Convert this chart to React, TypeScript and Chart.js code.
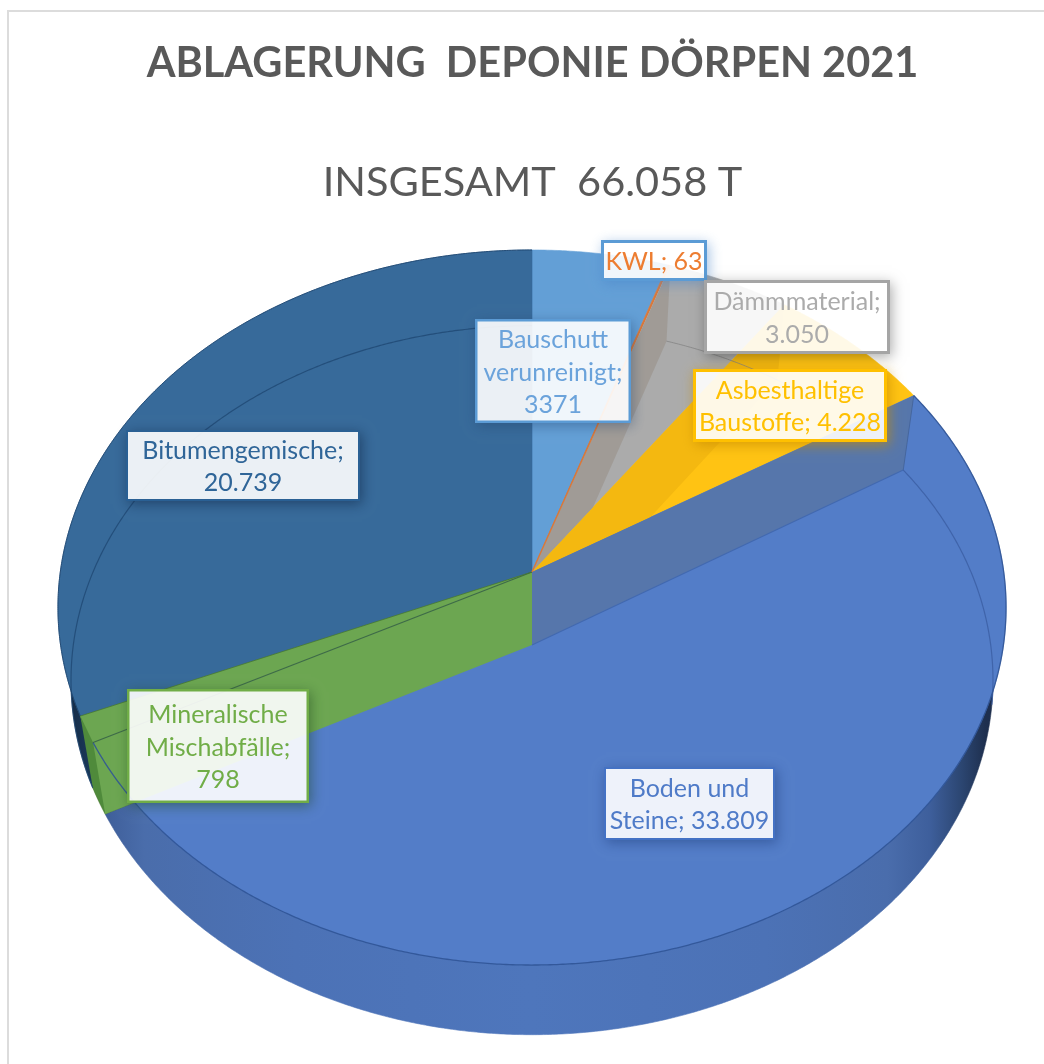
import React, { useEffect, useRef } from "react";
import { Chart, registerables } from "chart.js";

Chart.register(...registerables);

const categories = ["Bauschutt verunreinigt", "KWL", "Dämmmaterial", "Asbesthaltige Baustoffe", "Boden und Steine", "Mineralische Mischabfälle", "Bitumengemische"];
const tonnes = [3371, 63, 3050, 4228, 33809, 798, 20739];
const valueLabels = ["3371", "63", "3.050", "4.228", "33.809", "798", "20.739"];
const chartTitle = "ABLAGERUNG  DEPONIE DÖRPEN 2021";
const chartSubtitle = "INSGESAMT  66.058 T";

const faceColors = ["#639FD6", "#D9783A", "#ABABAB", "#FFC313", "#537DC8", "#6CA651", "#376A9A"];
const textColors = ["#6BA3DB", "#ED7D31", "#ABABAB", "#FFC000", "#4F7BC8", "#70AD47", "#2F6598"];
const borderColors = ["#5B9BD5", "#5B9BD5", "#A5A5A5", "#FFC000", "#4472C4", "#70AD47", "#2A6094"];
const shadowColors = ["rgba(30,60,100,0.4)", "rgba(70,130,200,0.5)", "rgba(0,0,0,0.32)", "rgba(200,140,0,0.7)", "rgba(20,50,110,0.45)", "rgba(30,70,30,0.5)", "rgba(10,30,60,0.5)"];
const borderWidths = [2.5, 3, 3, 3, 2, 2.5, 2];
const rimColors = ["#4A7FB0", "#B05A25", "#808080", "#C09000", "", "#4F7F38", ""];

// label boxes: [left, top, right, bottom, text lines]
const labelBoxes: [number, number, number, number, string[]][] = [
  [475, 319, 631, 423, ["Bauschutt", "verunreinigt;"]],
  [601, 240, 707, 281, []],
  [704, 280, 890, 354, ["Dämmmaterial;"]],
  [693, 369, 887, 442, ["Asbesthaltige", "Baustoffe;"]],
  [604, 767, 775, 840, ["Boden und", "Steine;"]],
  [127, 689, 309, 803, ["Mineralische", "Mischabfälle;"]],
  [126, 430, 360, 501, ["Bitumengemische;"]],
];

const PERSP = 0.0993;
const TOP = { cx: 532, cy: 572, a: 471.7, b: 354 };
const BOT = { cx: 532, cy: 645, a: 458.7, b: 351 };
const LABEL_FONT = "25px Lato";
const LINE_H = 32.3;

type Face = typeof TOP;
const proj = (f: Face, ang: number): [number, number] => {
  const u = Math.cos(ang), v = Math.sin(ang), d = 1 - PERSP * v;
  return [f.cx + (f.a * u) / d, f.cy + (f.b * v) / d];
};

function arcPoints(ctx: CanvasRenderingContext2D, f: Face, a0: number, a1: number, move = false) {
  const n = Math.max(2, Math.ceil(Math.abs(a1 - a0) / 0.006));
  for (let i = 0; i <= n; i++) {
    const p = proj(f, a0 + ((a1 - a0) * i) / n);
    if (i === 0 && move) ctx.moveTo(p[0], p[1]);
    else ctx.lineTo(p[0], p[1]);
  }
}

function sector(ctx: CanvasRenderingContext2D, f: Face, a0: number, a1: number) {
  ctx.beginPath();
  ctx.moveTo(f.cx, f.cy);
  arcPoints(ctx, f, a0, a1);
  ctx.closePath();
}

function fillSector(ctx: CanvasRenderingContext2D, f: Face, a0: number, a1: number, c: any) {
  sector(ctx, f, a0, a1);
  ctx.fillStyle = c;
  ctx.strokeStyle = c;
  ctx.lineWidth = 0.6;
  ctx.fill();
  ctx.stroke();
}

function poly(ctx: CanvasRenderingContext2D, pts: [number, number][], c: string) {
  ctx.beginPath();
  pts.forEach((p, i) => (i ? ctx.lineTo(p[0], p[1]) : ctx.moveTo(p[0], p[1])));
  ctx.closePath();
  ctx.fillStyle = c;
  ctx.fill();
}

function strokeArc(ctx: CanvasRenderingContext2D, f: Face, a0: number, a1: number, c: string, w: number) {
  ctx.beginPath();
  arcPoints(ctx, f, a0, a1, true);
  ctx.strokeStyle = c;
  ctx.lineWidth = w;
  ctx.stroke();
}

function line(ctx: CanvasRenderingContext2D, p: [number, number], q: [number, number], c: string, w: number) {
  ctx.beginPath();
  ctx.moveTo(p[0], p[1]);
  ctx.lineTo(q[0], q[1]);
  ctx.strokeStyle = c;
  ctx.lineWidth = w;
  ctx.stroke();
}

const pie3d = {
  id: "pie3d",
  beforeDatasetsDraw(chart: any) {
    const ctx: CanvasRenderingContext2D = chart.ctx;
    const arcs = chart.getDatasetMeta(0).data;
    const S = arcs.map((a: any) => a.startAngle);
    const E = arcs.map((a: any) => a.endAngle);
    const apexT: [number, number] = [TOP.cx, TOP.cy];
    const apexB: [number, number] = [BOT.cx, BOT.cy];

    ctx.save();
    // frame
    ctx.fillStyle = "#DCDCDC";
    ctx.fillRect(7, 10, 1037, 2);
    ctx.fillRect(7, 10, 2, 1054);

    // rim: lower face
    const bodenRim = ctx.createLinearGradient(60, 0, 1000, 0);
    [[0.02, "#27406E"], [0.05, "#3F5F9A"], [0.09, "#4A6DAB"], [0.25, "#4C72B6"], [0.5, "#4E76BC"], [0.75, "#4C72B6"], [0.88, "#4A6DAC"], [0.925, "#3E5F9C"], [0.96, "#2B4570"], [0.985, "#1E2F4E"]].forEach(([o, c]) => bodenRim.addColorStop(o as number, c as string));
    const bitRim = ctx.createLinearGradient(60, 0, 130, 0);
    bitRim.addColorStop(0, "#12263F");
    bitRim.addColorStop(1, "#25507A");
    arcs.forEach((_: any, i: number) => {
      const c = i === 4 ? bodenRim : i === 6 ? bitRim : rimColors[i];
      fillSector(ctx, BOT, S[i], E[i], c);
    });

    // top face
    arcs.forEach((_: any, i: number) => fillSector(ctx, TOP, S[i], E[i], faceColors[i]));

    // translucent inner walls, clipped to their own slice
    ctx.save();
    sector(ctx, TOP, S[2], E[2]);
    ctx.clip();
    poly(ctx, [apexT, proj(TOP, S[2]), proj(BOT, S[2]), apexB], "#A09B96");
    ctx.restore();

    ctx.save();
    sector(ctx, TOP, S[3], E[3]);
    ctx.clip();
    poly(ctx, [apexT, proj(TOP, S[3]), proj(BOT, S[3]), apexB], "#F4B810");
    ctx.restore();

    // walls of the big slice
    poly(ctx, [apexT, proj(TOP, S[4]), proj(BOT, S[4]), apexB], "#5676AB");
    line(ctx, proj(TOP, S[4]), proj(BOT, S[4]), "rgba(60,90,140,0.6)", 1);
    poly(ctx, [apexT, proj(TOP, E[5]), proj(BOT, S[5]), apexB], "#6CA651");
    poly(ctx, [proj(TOP, E[5]), proj(BOT, E[5]), proj(BOT, S[5]), proj(TOP, S[5])], "#4F8A3B");
    line(ctx, apexB, proj(BOT, S[4]), "#4269B0", 1.2);

    // seen-through outlines
    strokeArc(ctx, BOT, S[6], E[6], "rgba(30,70,112,0.75)", 1.2);
    strokeArc(ctx, BOT, S[4], S[4] + 0.72, "rgba(60,95,165,0.85)", 1.2);
    strokeArc(ctx, BOT, S[2], E[2] + 0.05, "rgba(130,130,130,0.75)", 1);
    strokeArc(ctx, TOP, S[4], E[4], "rgba(48,84,150,0.9)", 1.3);
    strokeArc(ctx, TOP, S[6], E[6], "rgba(30,70,112,0.9)", 1);
    line(ctx, apexT, proj(TOP, S[5]), "rgba(45,85,70,0.75)", 1.2);
    line(ctx, apexT, proj(TOP, E[5]), "rgba(70,120,50,0.8)", 1);
    line(ctx, apexT, proj(TOP, S[1] + 0.003), faceColors[1], 1.4);

    // data labels
    ctx.textAlign = "center";
    ctx.textBaseline = "middle";
    ctx.font = LABEL_FONT;
    labelBoxes.forEach((b, i) => {
      const [l, t, r, bt] = b;
      ctx.save();
      const outside = new Path2D();
      outside.rect(0, 0, 1044, 1064);
      outside.rect(l, t, r - l, bt - t);
      ctx.clip(outside, "evenodd");
      ctx.shadowColor = shadowColors[i];
      ctx.shadowBlur = 12;
      ctx.shadowOffsetX = 2;
      ctx.shadowOffsetY = 3;
      ctx.fillStyle = "#FFFFFF";
      ctx.fillRect(l, t, r - l, bt - t);
      ctx.restore();
      ctx.fillStyle = "rgba(255,255,255,0.9)";
      ctx.fillRect(l, t, r - l, bt - t);
      const w = borderWidths[i];
      ctx.strokeStyle = borderColors[i];
      ctx.lineWidth = w;
      ctx.strokeRect(l + w / 2, t + w / 2, r - l - w, bt - t - w);
      const lines = b[4].slice();
      if (i === 1) lines.push(categories[1] + "; " + valueLabels[1]);
      else if (i === 3 || i === 4) lines[lines.length - 1] += " " + valueLabels[i];
      else lines.push(valueLabels[i]);
      ctx.fillStyle = textColors[i];
      const mid = (t + bt) / 2 + 1.5;
      lines.forEach((s, k) => ctx.fillText(s, (l + r) / 2, mid + (k - (lines.length - 1) / 2) * LINE_H));
    });
    ctx.restore();
    return false;
  },
};

export default function App() {
  const ref = useRef<HTMLCanvasElement>(null);
  useEffect(() => {
    const chart = new Chart(ref.current as HTMLCanvasElement, {
      type: "pie",
      data: {
        labels: categories,
        datasets: [{ data: tonnes, backgroundColor: faceColors, borderWidth: 0 }],
      },
      options: {
        animation: false,
        responsive: false,
        layout: { padding: { left: 21 } },
        plugins: {
          legend: { display: false },
          tooltip: { enabled: false },
          title: {
            display: true,
            text: chartTitle,
            color: "#595959",
            font: { family: "Lato", size: 41.5, weight: "700", lineHeight: 1.2 },
            padding: { top: 39, bottom: 69 },
          },
          subtitle: {
            display: true,
            text: chartSubtitle,
            color: "#595959",
            font: { family: "Lato", size: 41.5, weight: "400", lineHeight: 1.2 },
            padding: { top: 0, bottom: 0 },
          },
        },
      },
      plugins: [pie3d],
    } as any);
    return () => chart.destroy();
  }, []);
  return (
    <div style={{ position: "absolute", left: 0, top: 0, width: 1044, height: 1064, overflow: "hidden" }}>
      <canvas ref={ref} width={1044} height={1064} style={{ display: "block" }} />
    </div>
  );
}
